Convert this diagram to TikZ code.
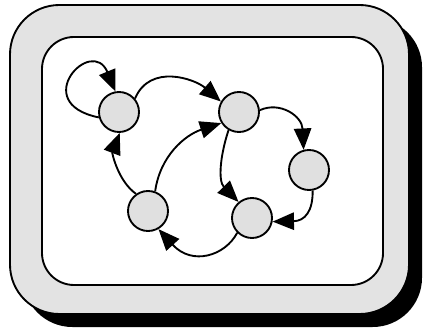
\documentclass[tikz,border=0pt]{standalone}
\usetikzlibrary{arrows.meta}
\definecolor{bandgray}{HTML}{E3E3E3}
\definecolor{nodegray}{HTML}{E0E0E0}
\tikzset{
  state/.style={circle,draw=black,fill=nodegray,line width=1.4pt,minimum size=30pt,inner sep=0pt},
  edge/.style={line width=1.4pt,-{Triangle[length=16pt,width=13pt]}},
  frame/.style={line width=1.4pt,draw=black}
}
\begin{document}
\begin{tikzpicture}[x=0.75pt,y=0.75pt]
\useasboundingbox (0,0) rectangle (423,331);
% shadow
\fill[black,rounded corners=37pt] (23,4) rectangle (422,313);
% outer frame
\draw[frame,fill=bandgray,rounded corners=37pt] (10,17) rectangle (409,326);
% inner frame
\draw[frame,fill=white,rounded corners=24pt] (42,46) rectangle (383,294);
% states
\node[state] (A) at (119,219) {};
\node[state] (B) at (239,219) {};
\node[state] (C) at (309,161) {};
\node[state] (D) at (252,113) {};
\node[state] (E) at (148,120) {};
% edges
\draw[edge] (A.195) .. controls (28,228) and (92,296) .. (A.100);
\draw[edge] (A.40) .. controls (150,268) and (195,252) .. (B.150);
\draw[edge] (E.70) .. controls (160,175) and (185,196) .. (B.212);
\draw[edge] (E.125) .. controls (118,150) and (112,178) .. (A.272);
\draw[edge] (B.5) .. controls (280,230) and (302,215) .. (C.105);
\draw[edge] (B.240) .. controls (220,175) and (218,150) .. (D.130);
\draw[edge] (C.280) .. controls (313,120) and (305,110) .. (D.350);
\draw[edge] (D.225) .. controls (225,75) and (192,65) .. (E.300);
\end{tikzpicture}
\end{document}
